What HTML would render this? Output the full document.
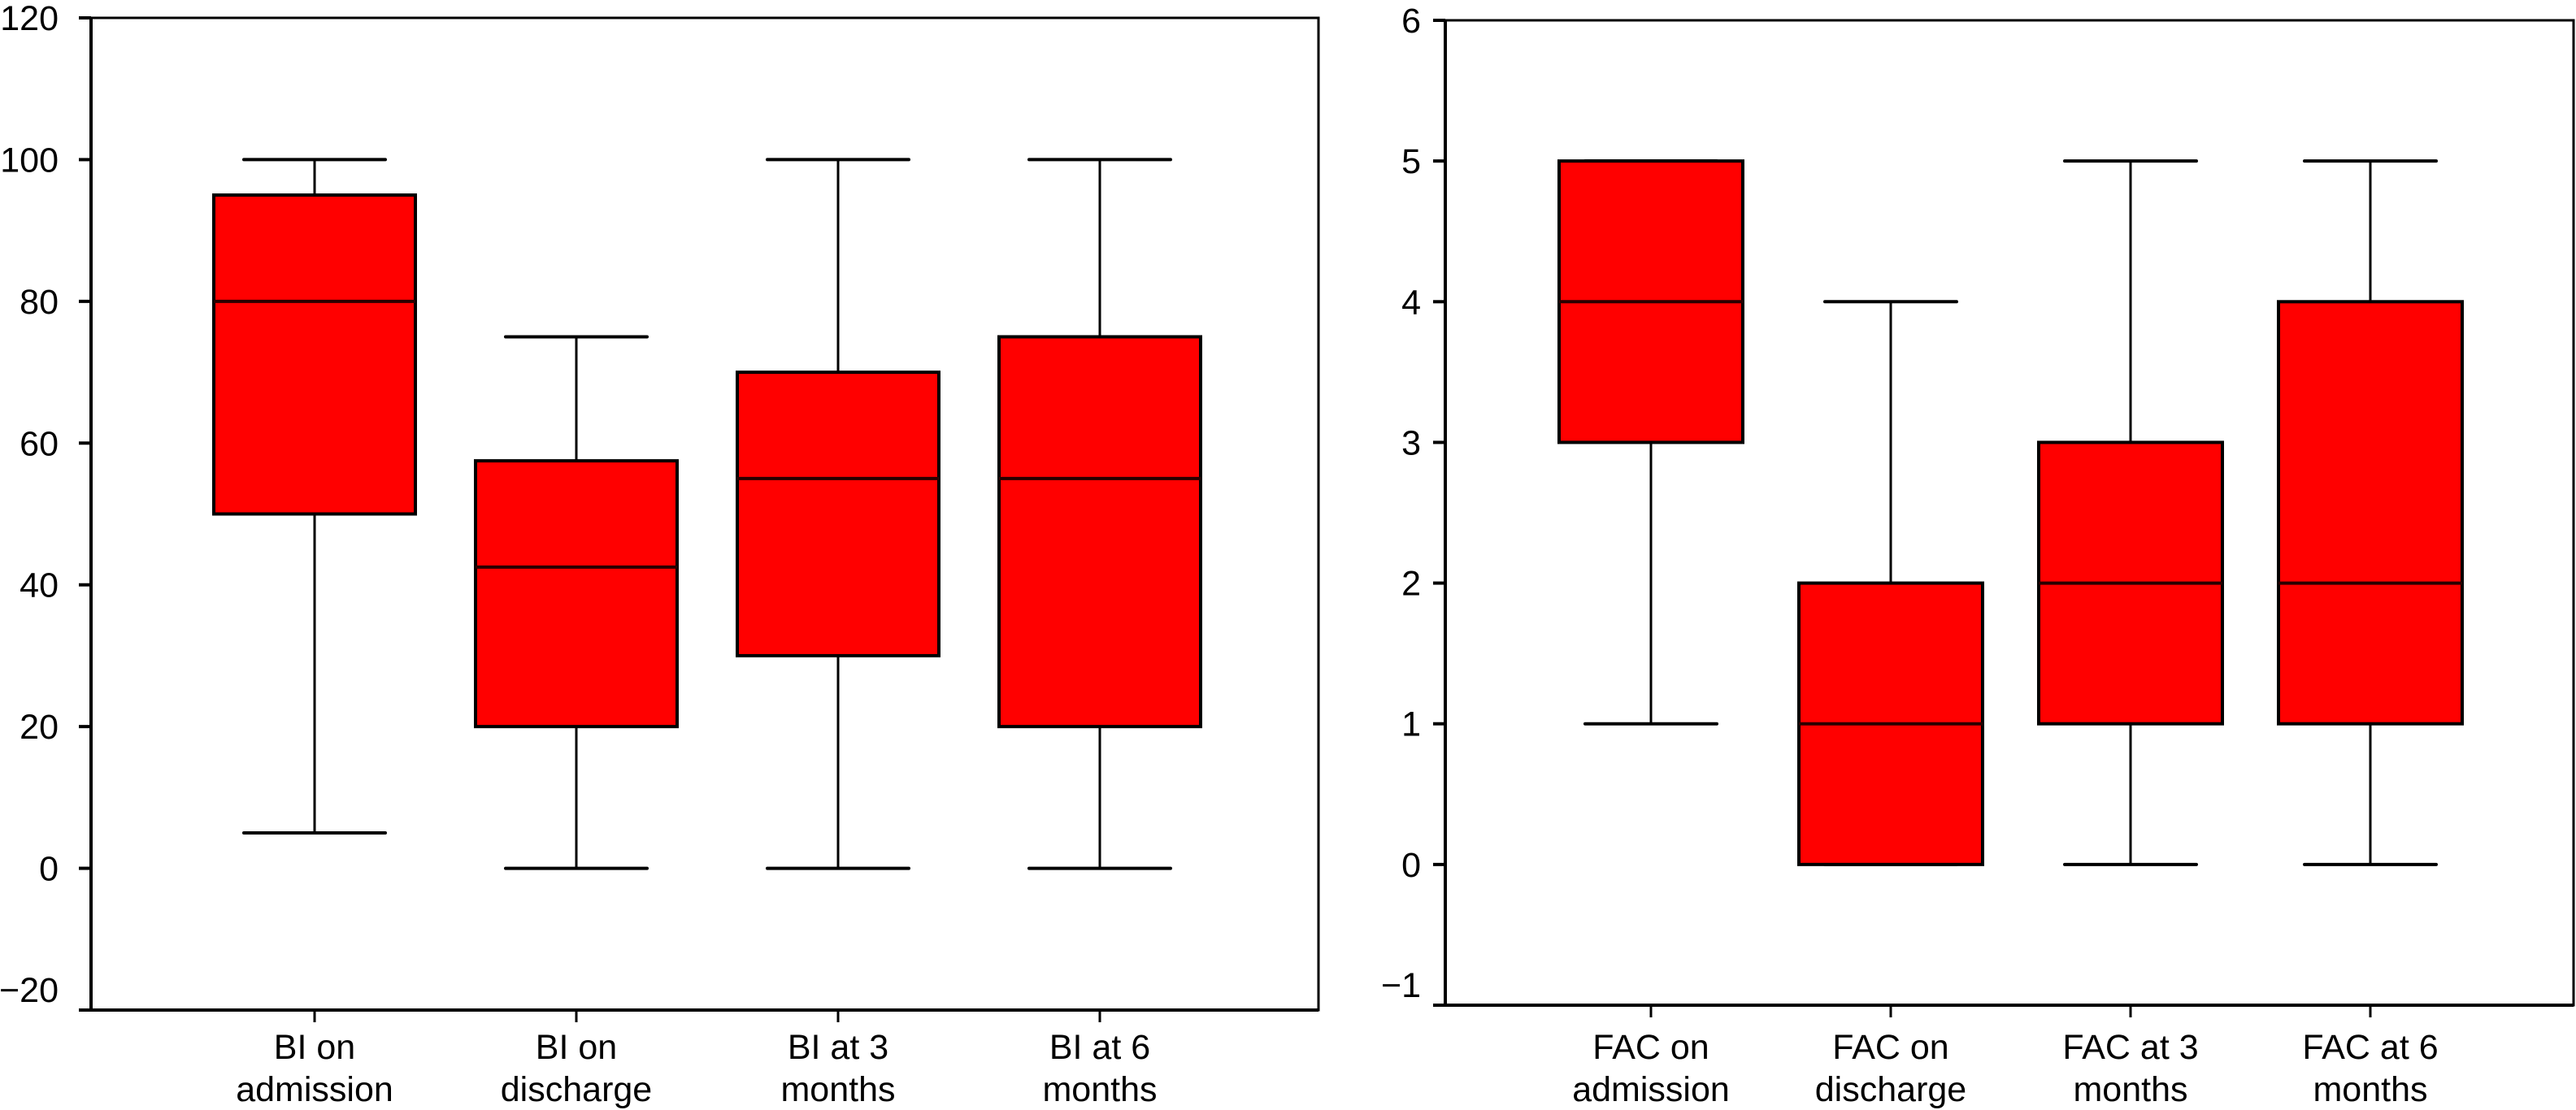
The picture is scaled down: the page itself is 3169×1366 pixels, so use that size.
<!DOCTYPE html>
<html><head><meta charset="utf-8"><style>
html,body{margin:0;padding:0;background:#fff;}
svg{display:block;}
text{font-family:"Liberation Sans",Arial,sans-serif;fill:#000;}
</style></head><body>
<svg id="chart" width="3169" height="1366" viewBox="0 0 3169 1366" xmlns="http://www.w3.org/2000/svg"></svg>
<script>
// ---- Left panel data (Barthel Index) ----
const biCategories = [["BI on","admission"],["BI on","discharge"],["BI at 3","months"],["BI at 6","months"]];
const biMin    = [5, 0, 0, 0];
const biQ1     = [50, 20, 30, 20];
const biMedian = [80, 42.5, 55, 55];
const biQ3     = [95, 57.5, 70, 75];
const biMax    = [100, 75, 100, 100];
const biTicks  = [120, 100, 80, 60, 40, 20, 0, -20];
const biTickLabels = ["120","100","80","60","40","20","0","\u221220"];

// ---- Right panel data (FAC) ----
const facCategories = [["FAC on","admission"],["FAC on","discharge"],["FAC at 3","months"],["FAC at 6","months"]];
const facMin    = [1, 0, 0, 0];
const facQ1     = [3, 0, 1, 1];
const facMedian = [4, 1, 2, 2];
const facQ3     = [5, 2, 3, 4];
const facMax    = [5, 4, 5, 5];
const facTicks  = [6, 5, 4, 3, 2, 1, 0, -1];
const facTickLabels = ["6","5","4","3","2","1","0","\u22121"];

const NS = "http://www.w3.org/2000/svg";
const svg = document.getElementById("chart");
function mk(tag, attrs, parent){
  const e = document.createElementNS(NS, tag);
  for (const k in attrs) e.setAttribute(k, attrs[k]);
  (parent||svg).appendChild(e);
  return e;
}

function panel(cfg){
  const g = mk("g", {});
  
  
  const yScale = v => cfg.y0 + (cfg.vTop - v) * (cfg.y1 - cfg.y0) / (cfg.vTop - cfg.vBot);
  const xScale = i => cfg.c0 + i * cfg.step;
  const frame = mk("rect", {x:cfg.x0, y:cfg.y0, width:cfg.x1-cfg.x0, height:cfg.y1-cfg.y0, fill:"none", stroke:"#000", "stroke-width":3}, g);
  
  
  const ax = mk("line", {x1:cfg.x0, y1:cfg.y0, x2:cfg.x0, y2:cfg.y1+2, stroke:"#000","stroke-width":4}, g);
  
  
  const bx = mk("line", {x1:cfg.x0-15, y1:cfg.y1, x2:cfg.x1, y2:cfg.y1, stroke:"#000","stroke-width":4}, g);
  
  
  cfg.ticks.forEach((t, i) => {
    const y = yScale(t);
    const tl = mk("line", {x1:cfg.x0-15, y1:y, x2:cfg.x0, y2:y, stroke:"#000","stroke-width":4}, g);
    
    
    const isLast = i === cfg.ticks.length - 1;
    const ty = isLast ? y - 10 : y + 15;
    const tx = mk("text", {x:cfg.labelRight, y:ty, "text-anchor":"end", "font-size":43}, g);
    tx.textContent = cfg.tickLabels[i];
    
    
  });
  cfg.cats.forEach((c, i) => {
    const cx = xScale(i);
    const bg = mk("g", {}, g);
    
    
    mk("line", {x1:cx, y1:yScale(cfg.max[i]), x2:cx, y2:yScale(cfg.q3[i]), stroke:"#000","stroke-width":3}, bg);
    mk("line", {x1:cx, y1:yScale(cfg.min[i]), x2:cx, y2:yScale(cfg.q1[i]), stroke:"#000","stroke-width":3}, bg);
    mk("line", {x1:cx-cfg.cap, y1:yScale(cfg.max[i]), x2:cx+cfg.cap, y2:yScale(cfg.max[i]), stroke:"#000","stroke-width":4,"stroke-linecap":"round"}, bg);
    mk("line", {x1:cx-cfg.cap, y1:yScale(cfg.min[i]), x2:cx+cfg.cap, y2:yScale(cfg.min[i]), stroke:"#000","stroke-width":4,"stroke-linecap":"round"}, bg);
    mk("rect", {x:cx-cfg.half, y:yScale(cfg.q3[i]), width:2*cfg.half, height:yScale(cfg.q1[i])-yScale(cfg.q3[i]), fill:"#ff0000", stroke:"#000","stroke-width":4}, bg);
    mk("line", {x1:cx-cfg.half, y1:yScale(cfg.med[i]), x2:cx+cfg.half, y2:yScale(cfg.med[i]), stroke:"#2a0000","stroke-width":4}, bg);
    const xt = mk("line", {x1:cx, y1:cfg.y1, x2:cx, y2:cfg.y1+15, stroke:"#000","stroke-width":3}, g);
    
    
    const lab = mk("text", {x:cx, y:1303, "text-anchor":"middle", "font-size":43}, g);
    
    
    const t1 = mk("tspan", {x:cx, y:1303}, lab); t1.textContent = c[0];
    const t2 = mk("tspan", {x:cx, y:1355}, lab); t2.textContent = c[1];
  });
}

panel({name:"bi-chart", x0:112, x1:1622, y0:22, y1:1243, vTop:120, vBot:-20,
  c0:387, step:322, half:124, cap:87, labelRight:72,
  ticks:biTicks, tickLabels:biTickLabels, cats:biCategories,
  min:biMin, q1:biQ1, med:biMedian, q3:biQ3, max:biMax});
panel({name:"fac-chart", x0:1778, x1:3166, y0:25, y1:1237, vTop:6, vBot:-1,
  c0:2031, step:295, half:113, cap:81, labelRight:1748,
  ticks:facTicks, tickLabels:facTickLabels, cats:facCategories,
  min:facMin, q1:facQ1, med:facMedian, q3:facQ3, max:facMax});
</script>
</body></html>
